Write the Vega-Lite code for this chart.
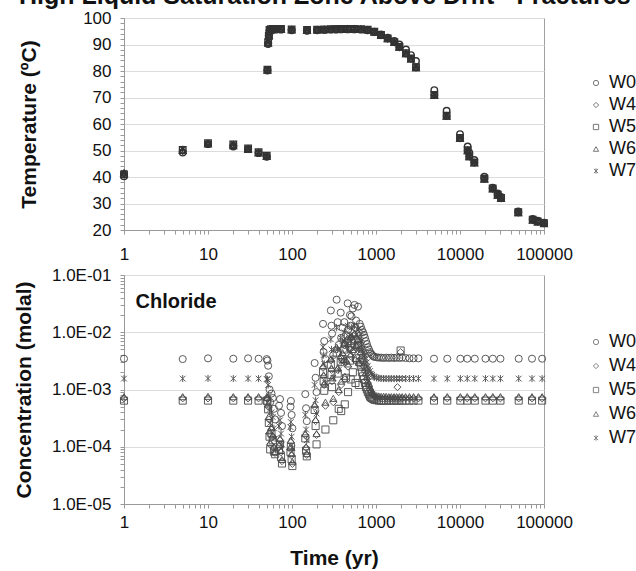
{
  "$schema": "https://vega.github.io/schema/vega-lite/v6.json",
  "background": "white",
  "padding": {"left": 12, "top": -17, "right": 0, "bottom": 0},
  "config": {
    "font": "Liberation Sans",
    "view": {"stroke": "#a0a0a0", "strokeWidth": 1},
    "axis": {"labelFont": "Liberation Sans", "labelFontSize": 17, "labelColor": "#111", "titleFont": "Liberation Sans", "titleFontSize": 21, "titleFontWeight": "bold", "titleColor": "#111", "domainColor": "#999", "tickColor": "#999", "tickSize": 4, "gridColor": "#dcdcdc", "labelOverlap": false, "labelFlush": false},
    "legend": {"labelFont": "Liberation Sans", "labelFontSize": 18, "labelColor": "#111", "symbolSize": 28, "symbolStrokeColor": "#777", "symbolFillColor": "transparent", "symbolStrokeWidth": 1, "labelOffset": 4, "rowPadding": 4}
  },
  "title": {"text": "High Liquid Saturation Zone Above Drift - Fractures", "font": "Liberation Sans", "fontSize": 25, "fontWeight": "bold", "anchor": "middle", "offset": 0, "color": "#111"},
  "datasets": {
    "temp": [
      {"t": 1, "W0": 40.3, "W4": 41.2, "W5": 41.0, "W6": 41.4, "W7": 41.6},
      {"t": 5, "W0": 49.2, "W4": 49.8, "W5": 50.2, "W6": 50.0, "W7": 50.6},
      {"t": 10, "W0": 52.4, "W4": 52.6, "W5": 52.8, "W6": 52.5, "W7": 52.7},
      {"t": 20, "W0": 51.5, "W4": 52.0, "W5": 52.3, "W6": 51.8, "W7": 52.5},
      {"t": 30, "W0": 50.5, "W4": 50.6, "W5": 50.8, "W6": 50.4, "W7": 50.7},
      {"t": 40, "W0": 49.0, "W4": 49.2, "W5": 49.4, "W6": 49.1, "W7": 49.3},
      {"t": 50, "W0": 47.6, "W4": 47.8, "W5": 48.0, "W6": 47.7, "W7": 47.9},
      {"t": 51, "W0": 80.2, "W4": 80.4, "W5": 80.5, "W6": 80.3, "W7": 80.6},
      {"t": 52, "W0": 90.2, "W4": 90.6, "W5": 90.8, "W6": 90.5, "W7": 91.0},
      {"t": 53, "W0": 93.0, "W4": 93.4, "W5": 93.2, "W6": 93.5, "W7": 93.6},
      {"t": 54, "W0": 95.0, "W4": 95.3, "W5": 95.5, "W6": 95.2, "W7": 95.6},
      {"t": 56, "W0": 95.5, "W4": 95.7, "W5": 95.8, "W6": 95.6, "W7": 95.9},
      {"t": 59, "W0": 95.6, "W4": 95.8, "W5": 95.9, "W6": 95.7, "W7": 96.0},
      {"t": 64, "W0": 95.6, "W4": 95.8, "W5": 95.9, "W6": 95.7, "W7": 96.0},
      {"t": 74, "W0": 95.6, "W4": 95.8, "W5": 95.9, "W6": 95.7, "W7": 96.0},
      {"t": 99, "W0": 95.4, "W4": 95.6, "W5": 95.7, "W6": 95.5, "W7": 95.8},
      {"t": 151, "W0": 95.2, "W4": 95.3, "W5": 95.5, "W6": 95.3, "W7": 95.6},
      {"t": 199, "W0": 95.4, "W4": 95.6, "W5": 95.6, "W6": 95.5, "W7": 95.7},
      {"t": 243, "W0": 95.5, "W4": 95.6, "W5": 95.7, "W6": 95.6, "W7": 95.8},
      {"t": 291, "W0": 95.6, "W4": 95.7, "W5": 95.8, "W6": 95.7, "W7": 95.9},
      {"t": 334, "W0": 95.6, "W4": 95.8, "W5": 95.8, "W6": 95.7, "W7": 96.0},
      {"t": 383, "W0": 95.7, "W4": 95.8, "W5": 95.9, "W6": 95.8, "W7": 96.0},
      {"t": 460, "W0": 95.7, "W4": 95.9, "W5": 95.9, "W6": 95.8, "W7": 96.0},
      {"t": 552, "W0": 95.7, "W4": 95.9, "W5": 95.9, "W6": 95.8, "W7": 96.0},
      {"t": 663, "W0": 95.6, "W4": 95.8, "W5": 95.8, "W6": 95.7, "W7": 95.9},
      {"t": 796, "W0": 95.4, "W4": 95.5, "W5": 95.6, "W6": 95.5, "W7": 95.6},
      {"t": 955, "W0": 94.8, "W4": 94.7, "W5": 94.8, "W6": 94.7, "W7": 94.9},
      {"t": 1147, "W0": 93.8, "W4": 93.5, "W5": 93.6, "W6": 93.5, "W7": 93.7},
      {"t": 1377, "W0": 92.6, "W4": 92.2, "W5": 92.3, "W6": 92.2, "W7": 92.4},
      {"t": 1652, "W0": 91.3, "W4": 90.8, "W5": 90.9, "W6": 90.8, "W7": 91.0},
      {"t": 1897, "W0": 90.0, "W4": 89.0, "W5": 89.1, "W6": 89.0, "W7": 89.2},
      {"t": 2275, "W0": 88.1, "W4": 86.6, "W5": 86.7, "W6": 86.5, "W7": 86.8},
      {"t": 2610, "W0": 86.0, "W4": 84.6, "W5": 84.7, "W6": 84.5, "W7": 84.8},
      {"t": 2993, "W0": 83.8, "W4": 81.3, "W5": 81.4, "W6": 81.2, "W7": 81.5},
      {"t": 4945, "W0": 72.8, "W4": 70.9, "W5": 71.0, "W6": 70.8, "W7": 71.1},
      {"t": 6930, "W0": 65.0, "W4": 63.0, "W5": 63.1, "W6": 62.9, "W7": 63.2},
      {"t": 10000, "W0": 56.2, "W4": 54.6, "W5": 54.7, "W6": 54.5, "W7": 54.8},
      {"t": 12340, "W0": 51.5, "W4": 50.0, "W5": 50.1, "W6": 49.9, "W7": 50.2},
      {"t": 12900, "W0": 49.2, "W4": 47.7, "W5": 47.8, "W6": 47.6, "W7": 47.9},
      {"t": 14800, "W0": 46.4, "W4": 45.4, "W5": 45.5, "W6": 45.3, "W7": 45.6},
      {"t": 19500, "W0": 40.1, "W4": 39.3, "W5": 39.4, "W6": 39.2, "W7": 39.5},
      {"t": 24500, "W0": 36.0, "W4": 35.6, "W5": 35.7, "W6": 35.5, "W7": 35.8},
      {"t": 28100, "W0": 33.8, "W4": 33.2, "W5": 33.3, "W6": 33.1, "W7": 33.4},
      {"t": 30800, "W0": 32.5, "W4": 32.0, "W5": 32.1, "W6": 31.9, "W7": 32.2},
      {"t": 49400, "W0": 27.0, "W4": 26.6, "W5": 26.7, "W6": 26.5, "W7": 26.8},
      {"t": 73400, "W0": 24.2, "W4": 23.8, "W5": 23.9, "W6": 23.7, "W7": 24.0},
      {"t": 84200, "W0": 23.5, "W4": 23.1, "W5": 23.2, "W6": 23.0, "W7": 23.3},
      {"t": 100000, "W0": 22.8, "W4": 22.5, "W5": 22.6, "W6": 22.4, "W7": 22.7}
    ],
    "conc": [
      {"t": 1, "W0": 3.45e-3, "W4": 7.0e-4, "W5": 6.4e-4, "W6": 7.5e-4, "W7": 1.55e-3},
      {"t": 5, "W0": 3.4e-3, "W4": 7.0e-4, "W5": 6.4e-4, "W6": 7.5e-4, "W7": 1.55e-3},
      {"t": 10, "W0": 3.5e-3, "W4": 7.0e-4, "W5": 6.4e-4, "W6": 7.6e-4, "W7": 1.56e-3},
      {"t": 20, "W0": 3.45e-3, "W4": 7.0e-4, "W5": 6.4e-4, "W6": 7.5e-4, "W7": 1.55e-3},
      {"t": 30, "W0": 3.5e-3, "W4": 7.0e-4, "W5": 6.4e-4, "W6": 7.5e-4, "W7": 1.55e-3},
      {"t": 40, "W0": 3.45e-3, "W4": 7.0e-4, "W5": 6.4e-4, "W6": 7.5e-4, "W7": 1.55e-3},
      {"t": 50, "W0": 3.4e-3, "W4": 7.0e-4, "W5": 6.4e-4, "W6": 7.4e-4, "W7": 1.52e-3},
      {"t": 51, "W0": 3.2e-3, "W4": 6.8e-4, "W5": 6.2e-4, "W6": 7.3e-4, "W7": 1.5e-3},
      {"t": 52, "W0": 2.6e-3, "W4": 5.0e-4, "W5": 4.5e-4, "W6": 5.6e-4, "W7": 1.2e-3},
      {"t": 53, "W0": 1.7e-3, "W4": 3.0e-4, "W5": 2.6e-4, "W6": 3.4e-4, "W7": 7.8e-4},
      {"t": 54, "W0": 1.0e-3, "W4": 1.7e-4, "W5": 1.5e-4, "W6": 1.9e-4, "W7": 4.4e-4},
      {"t": 55, "W0": 6.0e-4, "W4": 1.1e-4, "W5": 9.0e-5, "W6": 1.2e-4, "W7": 2.6e-4},
      {"t": 57, "W0": 8.5e-4, "W4": 2.0e-4, "W5": 1.7e-4, "W6": 2.2e-4, "W7": 4.0e-4},
      {"t": 59, "W0": 7.1e-4, "W4": 1.5e-4, "W5": 1.3e-4, "W6": 1.6e-4, "W7": 3.3e-4},
      {"t": 61, "W0": 4.6e-4, "W4": 9.5e-5, "W5": 8.2e-5, "W6": 1.0e-4, "W7": 2.1e-4},
      {"t": 63, "W0": 3.0e-4, "W4": 7.8e-5, "W5": 7.4e-5, "W6": 8.3e-5, "W7": 1.4e-4},
      {"t": 70, "W0": 5.2e-4, "W4": 1.0e-4, "W5": 9.0e-5, "W6": 1.1e-4, "W7": 2.3e-4},
      {"t": 72, "W0": 6.8e-4, "W4": 1.3e-4, "W5": 1.1e-4, "W6": 1.4e-4, "W7": 2.9e-4},
      {"t": 74, "W0": 3.9e-4, "W4": 8.0e-5, "W5": 6.6e-5, "W6": 8.6e-5, "W7": 1.7e-4},
      {"t": 76, "W0": 2.3e-4, "W4": 5.6e-5, "W5": 5.1e-5, "W6": 6.0e-5, "W7": 1.1e-4},
      {"t": 96, "W0": 5.0e-4, "W4": 9.0e-5, "W5": 8.0e-5, "W6": 1.0e-4, "W7": 2.2e-4},
      {"t": 97, "W0": 6.3e-4, "W4": 1.2e-4, "W5": 1.0e-4, "W6": 1.3e-4, "W7": 2.7e-4},
      {"t": 99, "W0": 3.6e-4, "W4": 7.0e-5, "W5": 6.0e-5, "W6": 7.6e-5, "W7": 1.5e-4},
      {"t": 101, "W0": 2.1e-4, "W4": 5.0e-5, "W5": 4.6e-5, "W6": 5.5e-5, "W7": 9.5e-5},
      {"t": 144, "W0": 8.3e-4, "W4": 1.6e-4, "W5": 1.4e-4, "W6": 1.7e-4, "W7": 3.6e-4},
      {"t": 147, "W0": 4.7e-4, "W4": 9.6e-5, "W5": 8.5e-5, "W6": 1.0e-4, "W7": 2.0e-4},
      {"t": 150, "W0": 2.8e-4, "W4": 7.2e-5, "W5": 6.8e-5, "W6": 7.6e-5, "W7": 1.3e-4},
      {"t": 186, "W0": 2.9e-3, "W4": 5.0e-4, "W5": 4.4e-4, "W6": 5.5e-4, "W7": 1.2e-3},
      {"t": 191, "W0": 1.6e-3, "W4": 2.8e-4, "W5": 2.3e-4, "W6": 3.0e-4, "W7": 6.5e-4},
      {"t": 196, "W0": 9.0e-4, "W4": 1.6e-4, "W5": 1.1e-4, "W6": 1.7e-4, "W7": 3.8e-4},
      {"t": 234, "W0": 1.4e-2, "W4": 2.4e-3, "W5": 2.0e-3, "W6": 2.6e-3, "W7": 5.5e-3},
      {"t": 238, "W0": 4.5e-3, "W4": 1.7e-3, "W5": 1.4e-3, "W6": 1.8e-3, "W7": 4.0e-3},
      {"t": 242, "W0": 7.0e-3, "W4": 1.2e-3, "W5": 9.5e-4, "W6": 1.3e-3, "W7": 2.8e-3},
      {"t": 250, "W0": 3.4e-3, "W4": 5.2e-4, "W5": 2.0e-4, "W6": 6.0e-4, "W7": 1.3e-3},
      {"t": 290, "W0": 2.4e-2, "W4": 3.2e-3, "W5": 2.7e-3, "W6": 3.4e-3, "W7": 7.5e-3},
      {"t": 295, "W0": 1.3e-2, "W4": 2.2e-3, "W5": 1.8e-3, "W6": 2.4e-3, "W7": 5.0e-3},
      {"t": 300, "W0": 9.5e-3, "W4": 1.4e-3, "W5": 1.1e-3, "W6": 1.6e-3, "W7": 3.5e-3},
      {"t": 310, "W0": 4.0e-3, "W4": 6.0e-4, "W5": 2.9e-4, "W6": 7.0e-4, "W7": 1.6e-3},
      {"t": 340, "W0": 3.7e-2, "W4": 5.0e-3, "W5": 4.4e-3, "W6": 5.5e-3, "W7": 1.2e-2},
      {"t": 350, "W0": 1.5e-2, "W4": 2.2e-3, "W5": 1.9e-3, "W6": 2.4e-3, "W7": 5.0e-3},
      {"t": 360, "W0": 6.0e-3, "W4": 9.0e-4, "W5": 4.6e-4, "W6": 1.0e-3, "W7": 2.2e-3},
      {"t": 380, "W0": 2.2e-2, "W4": 3.6e-3, "W5": 3.0e-3, "W6": 3.9e-3, "W7": 8.0e-3},
      {"t": 385, "W0": 8.0e-3, "W4": 1.2e-3, "W5": 4.2e-4, "W6": 1.4e-3, "W7": 3.0e-3},
      {"t": 400, "W0": 1.2e-2, "W4": 4.0e-3, "W5": 3.4e-3, "W6": 4.4e-3, "W7": 7.0e-3},
      {"t": 420, "W0": 1.5e-2, "W4": 6.0e-3, "W5": 5.0e-3, "W6": 6.5e-3, "W7": 1.0e-2},
      {"t": 425, "W0": 6.0e-3, "W4": 1.5e-3, "W5": 5.5e-4, "W6": 1.7e-3, "W7": 3.2e-3},
      {"t": 440, "W0": 9.0e-3, "W4": 3.0e-3, "W5": 1.6e-3, "W6": 3.3e-3, "W7": 6.0e-3},
      {"t": 460, "W0": 3.2e-2, "W4": 7.5e-3, "W5": 6.5e-3, "W6": 8.0e-3, "W7": 1.3e-2},
      {"t": 465, "W0": 1.1e-2, "W4": 2.5e-3, "W5": 9.0e-4, "W6": 2.8e-3, "W7": 5.0e-3},
      {"t": 490, "W0": 2.0e-2, "W4": 5.0e-3, "W5": 3.2e-3, "W6": 5.5e-3, "W7": 9.0e-3},
      {"t": 500, "W0": 1.3e-2, "W4": 3.8e-3, "W5": 1.5e-3, "W6": 4.2e-3, "W7": 7.0e-3},
      {"t": 510, "W0": 1.9e-2, "W4": 8.0e-3, "W5": 7.0e-3, "W6": 8.5e-3, "W7": 1.2e-2},
      {"t": 530, "W0": 2.6e-2, "W4": 4.5e-3, "W5": 2.0e-3, "W6": 5.0e-3, "W7": 8.0e-3},
      {"t": 555, "W0": 3.0e-2, "W4": 9.0e-3, "W5": 7.5e-3, "W6": 9.5e-3, "W7": 1.3e-2},
      {"t": 570, "W0": 1.2e-2, "W4": 3.2e-3, "W5": 1.3e-3, "W6": 3.5e-3, "W7": 6.0e-3},
      {"t": 580, "W0": 1.6e-2, "W4": 5.5e-3, "W5": 3.5e-3, "W6": 6.0e-3, "W7": 9.0e-3},
      {"t": 610, "W0": 2.8e-2, "W4": 7.0e-3, "W5": 6.0e-3, "W6": 7.5e-3, "W7": 1.1e-2},
      {"t": 625, "W0": 1.0e-2, "W4": 2.8e-3, "W5": 1.2e-3, "W6": 3.0e-3, "W7": 5.0e-3},
      {"t": 640, "W0": 1.4e-2, "W4": 5.0e-3, "W5": 3.0e-3, "W6": 5.5e-3, "W7": 8.0e-3},
      {"t": 660, "W0": 1.25e-2, "W4": 4.2e-3, "W5": 2.5e-3, "W6": 4.6e-3, "W7": 7.0e-3},
      {"t": 680, "W0": 1.1e-2, "W4": 3.5e-3, "W5": 2.0e-3, "W6": 4.0e-3, "W7": 6.0e-3},
      {"t": 700, "W0": 1.0e-2, "W4": 3.0e-3, "W5": 1.7e-3, "W6": 3.4e-3, "W7": 5.2e-3},
      {"t": 720, "W0": 9.0e-3, "W4": 2.5e-3, "W5": 1.5e-3, "W6": 2.8e-3, "W7": 4.5e-3},
      {"t": 740, "W0": 8.0e-3, "W4": 2.1e-3, "W5": 1.3e-3, "W6": 2.4e-3, "W7": 4.0e-3},
      {"t": 760, "W0": 7.0e-3, "W4": 1.8e-3, "W5": 1.1e-3, "W6": 2.0e-3, "W7": 3.5e-3},
      {"t": 780, "W0": 6.2e-3, "W4": 1.5e-3, "W5": 1.0e-3, "W6": 1.7e-3, "W7": 3.0e-3},
      {"t": 800, "W0": 5.5e-3, "W4": 1.3e-3, "W5": 9.0e-4, "W6": 1.4e-3, "W7": 2.6e-3},
      {"t": 825, "W0": 5.0e-3, "W4": 1.15e-3, "W5": 8.2e-4, "W6": 1.25e-3, "W7": 2.3e-3},
      {"t": 850, "W0": 4.5e-3, "W4": 1.0e-3, "W5": 7.5e-4, "W6": 1.1e-3, "W7": 2.1e-3},
      {"t": 875, "W0": 4.2e-3, "W4": 9.2e-4, "W5": 7.2e-4, "W6": 1.0e-3, "W7": 1.9e-3},
      {"t": 900, "W0": 4.0e-3, "W4": 8.5e-4, "W5": 7.0e-4, "W6": 9.0e-4, "W7": 1.8e-3},
      {"t": 930, "W0": 3.8e-3, "W4": 8.0e-4, "W5": 6.8e-4, "W6": 8.5e-4, "W7": 1.7e-3},
      {"t": 960, "W0": 3.7e-3, "W4": 7.6e-4, "W5": 6.6e-4, "W6": 8.1e-4, "W7": 1.65e-3},
      {"t": 1020, "W0": 3.65e-3, "W4": 7.2e-4, "W5": 6.5e-4, "W6": 7.8e-4, "W7": 1.6e-3},
      {"t": 1080, "W0": 3.6e-3, "W4": 7.1e-4, "W5": 6.4e-4, "W6": 7.7e-4, "W7": 1.58e-3},
      {"t": 1150, "W0": 3.6e-3, "W4": 7.0e-4, "W5": 6.4e-4, "W6": 7.6e-4, "W7": 1.56e-3},
      {"t": 1230, "W0": 3.55e-3, "W4": 7.0e-4, "W5": 6.4e-4, "W6": 7.6e-4, "W7": 1.55e-3},
      {"t": 1320, "W0": 3.6e-3, "W4": 7.0e-4, "W5": 6.4e-4, "W6": 7.6e-4, "W7": 1.55e-3},
      {"t": 1420, "W0": 3.55e-3, "W4": 7.0e-4, "W5": 6.4e-4, "W6": 7.5e-4, "W7": 1.55e-3},
      {"t": 1520, "W0": 3.6e-3, "W4": 7.0e-4, "W5": 6.4e-4, "W6": 7.5e-4, "W7": 1.55e-3},
      {"t": 1640, "W0": 3.55e-3, "W4": 7.0e-4, "W5": 6.4e-4, "W6": 7.5e-4, "W7": 1.55e-3},
      {"t": 1760, "W0": 3.6e-3, "W4": 7.0e-4, "W5": 6.4e-4, "W6": 7.5e-4, "W7": 1.55e-3},
      {"t": 1800, "W4": 1.1e-3},
      {"t": 1900, "W0": 3.55e-3, "W4": 7.0e-4, "W5": 6.4e-4, "W6": 7.5e-4, "W7": 1.55e-3},
      {"t": 1965, "W5": 4.8e-3, "W4": 4.5e-3},
      {"t": 2050, "W0": 3.6e-3, "W4": 7.0e-4, "W5": 6.4e-4, "W6": 7.5e-4, "W7": 1.55e-3},
      {"t": 2250, "W0": 3.55e-3, "W4": 7.0e-4, "W5": 6.4e-4, "W6": 7.5e-4, "W7": 1.55e-3},
      {"t": 2500, "W0": 3.5e-3, "W4": 7.0e-4, "W5": 6.4e-4, "W6": 7.5e-4, "W7": 1.55e-3},
      {"t": 2800, "W0": 3.5e-3, "W4": 7.0e-4, "W5": 6.4e-4, "W6": 7.5e-4, "W7": 1.55e-3},
      {"t": 3200, "W0": 3.5e-3, "W4": 7.0e-4, "W5": 6.4e-4, "W6": 7.5e-4, "W7": 1.55e-3},
      {"t": 4900, "W0": 3.45e-3, "W4": 7.0e-4, "W5": 6.4e-4, "W6": 7.5e-4, "W7": 1.55e-3},
      {"t": 7050, "W0": 3.45e-3, "W4": 7.0e-4, "W5": 6.4e-4, "W6": 7.5e-4, "W7": 1.55e-3},
      {"t": 10100, "W0": 3.45e-3, "W4": 7.0e-4, "W5": 6.4e-4, "W6": 7.5e-4, "W7": 1.55e-3},
      {"t": 12200, "W0": 3.45e-3, "W4": 7.0e-4, "W5": 6.4e-4, "W6": 7.5e-4, "W7": 1.55e-3},
      {"t": 15000, "W0": 3.45e-3, "W4": 7.0e-4, "W5": 6.4e-4, "W6": 7.5e-4, "W7": 1.55e-3},
      {"t": 20100, "W0": 3.45e-3, "W4": 7.0e-4, "W5": 6.4e-4, "W6": 7.5e-4, "W7": 1.55e-3},
      {"t": 24600, "W0": 3.45e-3, "W4": 7.0e-4, "W5": 6.4e-4, "W6": 7.5e-4, "W7": 1.55e-3},
      {"t": 30300, "W0": 3.45e-3, "W4": 7.0e-4, "W5": 6.4e-4, "W6": 7.5e-4, "W7": 1.55e-3},
      {"t": 50000, "W0": 3.45e-3, "W4": 7.0e-4, "W5": 6.4e-4, "W6": 7.5e-4, "W7": 1.55e-3},
      {"t": 72000, "W0": 3.45e-3, "W4": 7.0e-4, "W5": 6.4e-4, "W6": 7.5e-4, "W7": 1.55e-3},
      {"t": 95000, "W0": 3.45e-3, "W4": 7.0e-4, "W5": 6.4e-4, "W6": 7.5e-4, "W7": 1.55e-3}
    ]
  },
  "spacing": 2,
  "resolve": {"scale": {"shape": "independent"}, "legend": {"shape": "independent"}},
  "vconcat": [
    {
      "width": 420,
      "height": 212,
      "data": {"name": "temp"},
      "transform": [{"fold": ["W0", "W4", "W5", "W6", "W7"], "as": ["series", "value"]}],
      "mark": {"type": "point", "filled": false, "size": 42, "strokeWidth": 1.4, "color": "#333", "opacity": 1},
      "encoding": {
        "x": {
          "field": "t", "type": "quantitative",
          "scale": {"type": "log", "domain": [1, 100000]},
          "axis": {
            "title": null, "grid": false, "labelPadding": 12,
            "values": [1,2,3,4,5,6,7,8,9,10,20,30,40,50,60,70,80,90,100,200,300,400,500,600,700,800,900,1000,2000,3000,4000,5000,6000,7000,8000,9000,10000,20000,30000,40000,50000,60000,70000,80000,90000,100000],
            "labelExpr": "indexof([1,10,100,1000,10000,100000], datum.value) >= 0 ? format(datum.value, 'd') : ''"
          }
        },
        "y": {
          "field": "value", "type": "quantitative",
          "scale": {"domain": [20, 100], "nice": false, "zero": false},
          "axis": {
            "title": "Temperature (ºC)", "labelPadding": 9, "titlePadding": 43,
            "values": [20,22,24,26,28,30,32,34,36,38,40,42,44,46,48,50,52,54,56,58,60,62,64,66,68,70,72,74,76,78,80,82,84,86,88,90,92,94,96,98,100],
            "labelExpr": "datum.value % 10 == 0 ? datum.label : ''",
            "gridOpacity": {"condition": {"test": "datum.value % 10 == 0", "value": 1}, "value": 0}
          }
        },
        "shape": {
          "field": "series", "type": "nominal",
          "scale": {"domain": ["W0", "W4", "W5", "W6", "W7"], "range": ["circle", "diamond", "square", "triangle-up", "M-0.8,-0.8L0.8,0.8M-0.8,0.8L0.8,-0.8M0,-1L0,1"]},
          "legend": {"title": null, "orient": "none", "legendX": 463, "legendY": 56}
        }
      }
    },
    {
      "width": 420,
      "height": 229,
      "encoding": {
        "x": {
          "field": "t", "type": "quantitative",
          "scale": {"type": "log", "domain": [1, 100000]},
          "axis": {
            "title": "Time (yr)", "grid": false, "labelPadding": 6, "titlePadding": 17,
            "values": [1,2,3,4,5,6,7,8,9,10,20,30,40,50,60,70,80,90,100,200,300,400,500,600,700,800,900,1000,2000,3000,4000,5000,6000,7000,8000,9000,10000,20000,30000,40000,50000,60000,70000,80000,90000,100000],
            "labelExpr": "indexof([1,10,100,1000,10000,100000], datum.value) >= 0 ? format(datum.value, 'd') : ''"
          }
        },
        "y": {
          "field": "value", "type": "quantitative",
          "scale": {"type": "log", "domain": [0.00001, 0.1], "nice": false},
          "axis": {
            "title": "Concentration (molal)", "labelPadding": 9, "titlePadding": 17,
            "values": [0.00001,0.00002,0.00003,0.00004,0.00005,0.00006,0.00007,0.00008,0.00009,0.0001,0.0002,0.0003,0.0004,0.0005,0.0006,0.0007,0.0008,0.0009,0.001,0.002,0.003,0.004,0.005,0.006,0.007,0.008,0.009,0.01,0.02,0.03,0.04,0.05,0.06,0.07,0.08,0.09,0.1],
            "labelExpr": "datum.value == 0.1 ? '1.0E-01' : datum.value == 0.01 ? '1.0E-02' : datum.value == 0.001 ? '1.0E-03' : datum.value == 0.0001 ? '1.0E-04' : datum.value == 0.00001 ? '1.0E-05' : ''",
            "gridOpacity": {"condition": {"test": "datum.value == 0.1 || datum.value == 0.01 || datum.value == 0.001 || datum.value == 0.0001 || datum.value == 0.00001", "value": 1}, "value": 0}
          }
        }
      },
      "layer": [
        {
          "data": {"name": "conc"},
          "transform": [
            {"fold": ["W0", "W4", "W5", "W6", "W7"], "as": ["series", "value"]},
            {"filter": "isValid(datum.value)"}
          ],
          "mark": {"type": "point", "filled": false, "size": 50, "strokeWidth": 1, "color": "#4a4a4a", "opacity": 0.9},
          "encoding": {
            "shape": {
              "field": "series", "type": "nominal",
              "scale": {"domain": ["W0", "W4", "W5", "W6", "W7"], "range": ["circle", "diamond", "square", "triangle-up", "M-0.8,-0.8L0.8,0.8M-0.8,0.8L0.8,-0.8M0,-1L0,1"]},
              "legend": {"title": null, "orient": "none", "legendX": 463, "legendY": 58, "rowPadding": 6}
            }
          }
        },
        {
          "data": {"values": [{"label": "Chloride", "t": 1.37, "value": 0.034}]},
          "mark": {"type": "text", "align": "left", "baseline": "middle", "font": "Liberation Sans", "fontSize": 20, "fontWeight": "bold", "color": "#111"},
          "encoding": {"text": {"field": "label"}}
        }
      ]
    }
  ]
}
